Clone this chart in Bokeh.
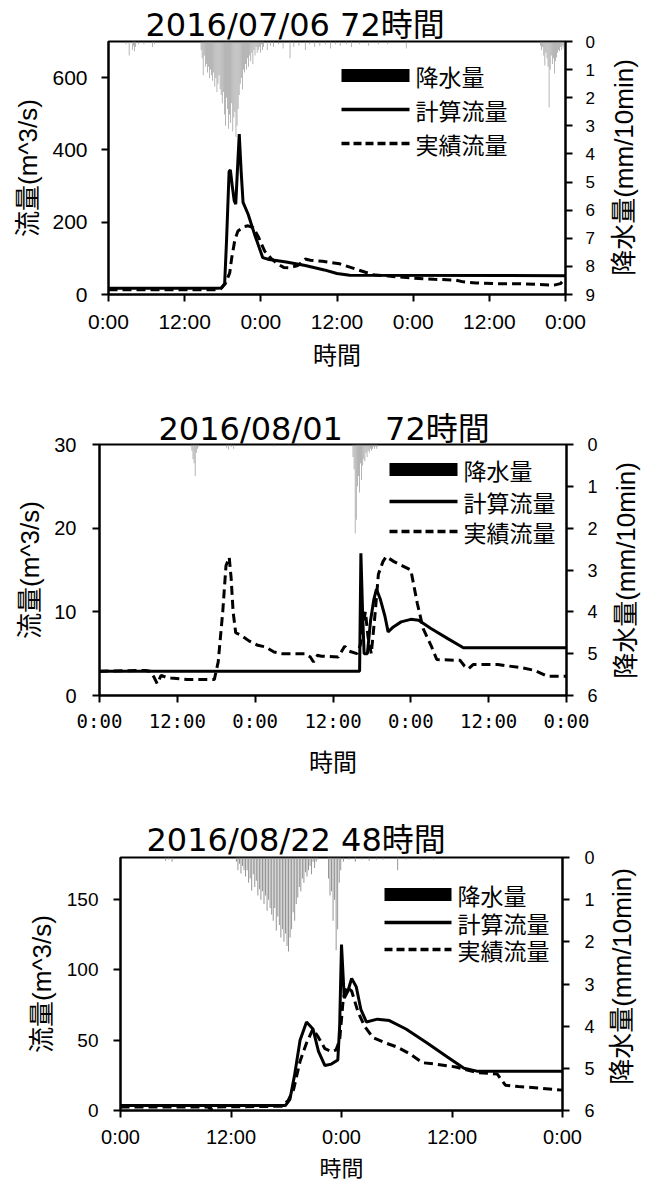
import math
from bokeh.plotting import figure
from bokeh.models import Range1d, LinearAxis, FixedTicker, Label, BoxAnnotation
from bokeh.layouts import column, row
from bokeh.embed import file_html
from bokeh.resources import INLINE

NUM = "Liberation Sans"
CJK = "Noto Sans CJK JP"
MIX = "Liberation Sans, Noto Sans CJK JP"
TITLE_FONT = "DejaVu Sans, Noto Sans CJK JP"
PAGE_W = 649
SIDE_X = 600

legend_labels = ["降水量", "計算流量", "実績流量"]
x_title = "時間"
y_title = "流量(m^3/s)"
y2_title = "降水量(mm/10min)"

# ---------------- chart 1 : 2016/07/06 ----------------
c1_title = "2016/07/06 72時間"
c1_hours = 72
c1_xticks = [0, 12, 24, 36, 48, 60, 72]
c1_xlabels = ["0:00", "12:00", "0:00", "12:00", "0:00", "12:00", "0:00"]
c1_ymax = 700
c1_yticks = [0, 200, 400, 600]
c1_rmax = 9
c1_rticks = [0, 1, 2, 3, 4, 5, 6, 7, 8, 9]
c1_calc_h = [0, 17.0, 17.8, 18.3, 18.6, 19.0, 19.2, 19.5, 19.8, 20.05, 20.3, 20.6, 20.9, 21.2, 22.0, 23.0,
             24.3, 25.3, 28.0, 31.0, 34.0, 36.0, 38.0, 72.0]
c1_calc_v = [17, 17, 18, 30, 150, 340, 345, 300, 260, 250, 340, 444, 340, 255, 222, 167,
             102, 97, 90, 80, 68, 58, 53, 52]
c1_obs_h = [0, 17.5, 18.4, 19.1, 19.4, 19.9, 20.4, 21.4, 22.0, 22.8, 23.6, 24.6, 25.6, 26.6, 27.6, 28.5,
            29.8, 31.0, 31.8, 33.7, 36.4, 39.0, 41.6, 44.8, 48.1, 51.3, 54.6, 55.9, 57.9, 61.1, 64.3,
            67.6, 70.2, 71.2, 72.0]
c1_obs_v = [13, 13, 30, 60, 100, 150, 176, 188, 190, 185, 160, 120, 100, 85, 75, 74,
            80, 98, 95, 92, 85, 70, 55, 50, 45, 42, 40, 35, 32, 30, 30,
            28, 26, 30, 45]
c1_rain_start = [2.5, 14.5, 68.0]
c1_rain_vals = [
    [0, 0.1, 0, 0, 0.5, 0, 0, 0.3, 0.15, 0.35, 0.2, 0, 0, 0.1, 0, 0, 0, 0, 0.1, 0,
     0, 0, 0, 0, 0, 0, 0.2, 0, 0.1, 0],
    [0.3, 0.6, 1.2, 0.5, 0.9, 0.8, 1.1, 0.9, 1.3, 1.0, 1.2, 1.4, 1.1, 1.6, 1.3, 1.8, 1.5, 1.2, 1.7, 1.9,
     2.2, 1.8, 2.6, 3.0, 2.0, 2.4, 3.1, 2.6, 2.9, 2.2, 3.2, 2.7, 2.5, 3.4, 3.0, 2.4, 1.9, 1.5, 1.3, 1.7,
     1.0, 1.1, 0.8, 1.0, 0.6, 0.9, 0.5, 0.7, 0.4, 0.8, 0.3, 0.5, 0.2, 0.4, 0.3, 0.2, 0.4, 0.1, 0.3, 0.2],
    [0.15, 0.3, 0.2, 0.5, 0.85, 0.4, 0.6, 0.9, 2.35, 1.0, 0.5, 0.8, 0.6, 1.14, 0.7, 0.57, 0.4, 0.3,
     0.35, 0.2, 0.3, 0.15, 0.25, 0.1],
]
c1_rain_sparse_h = [25.0, 25.5, 26.0, 26.8, 27.5, 28.6, 29.2, 30.0, 31.0, 31.7, 32.5, 33.3, 34.2, 35.0,
                    35.8, 36.5, 37.5, 38.3, 39.5, 41.0, 42.5, 44.0, 46.9]
c1_rain_sparse_v = [0.3, 0.15, 0.2, 0.1, 0.25, 0.6, 0.2, 0.15, 0.3, 0.1, 0.2, 0.15, 0.1, 0.25,
                    0.1, 0.15, 0.1, 0.2, 0.1, 0.15, 0.1, 0.1, 0.25]

# ---------------- chart 2 : 2016/08/01 ----------------
c2_title = "2016/08/01\u3000 72時間"
c2_hours = 72
c2_xticks = [0, 12, 24, 36, 48, 60, 72]
c2_xlabels = ["0:00", "12:00", "0:00", "12:00", "0:00", "12:00", "0:00"]
c2_ymax = 30
c2_yticks = [0, 10, 20, 30]
c2_rmax = 6
c2_rticks = [0, 1, 2, 3, 4, 5, 6]
c2_calc_h = [0, 40.1, 40.3, 40.6, 40.8, 41.3, 41.8, 42.3, 42.7, 43.3, 44.0, 44.5, 45.3, 46.5, 48.0, 49.2,
             51.1, 53.7, 56.1, 72.0]
c2_calc_v = [2.9, 2.9, 17.0, 9.0, 5.0, 5.0, 9.0, 11.5, 12.7, 11.5, 9.5, 7.6, 8.2, 8.8, 9.1, 9.0,
             8.0, 6.8, 5.7, 5.7]
c2_obs_h = [0, 7.1, 7.8, 8.4, 8.9, 9.5, 10.2, 11.0, 13.5, 17.7, 18.3, 19.0, 19.5, 20.0, 20.3, 20.6,
            21.0, 21.8, 23.1, 24.4, 25.6, 26.9, 28.2, 31.7, 32.5, 33.0, 33.6, 34.2, 36.8, 37.5, 37.8,
            38.5, 39.7, 40.2, 40.6, 41.0, 41.4, 41.9, 42.4, 43.0, 43.7, 44.2, 45.4, 46.7, 48.0, 48.5,
            49.0, 49.9, 51.1, 52.0, 55.6, 56.3, 56.9, 57.6, 61.4, 65.2, 67.1, 68.5, 69.0, 72.0]
c2_obs_v = [2.9, 3.0, 2.9, 2.2, 1.4, 2.4, 2.2, 2.1, 1.9, 1.9, 4.0, 10.0, 15.5, 16.5, 14.0, 10.0,
            7.5, 7.2, 6.5, 6.0, 5.8, 5.2, 5.0, 5.0, 4.6, 4.0, 4.8, 4.7, 4.6, 5.5, 5.9,
            5.3, 5.0, 6.0, 8.5, 10.0, 7.0, 5.0, 9.0, 14.5, 16.0, 16.6, 16.0, 15.5, 15.0, 13.0,
            11.0, 8.0, 6.0, 4.3, 4.2, 3.5, 3.2, 3.7, 3.7, 3.3, 3.0, 2.5, 2.3, 2.3]
c2_rain_start = [14.0, 39.0]
c2_rain_vals = [
    [0.05, 0.15, 0.35, 0.45, 0.75, 0.2, 0.1, 0.05],
    [0.3, 0.6, 2.13, 1.8, 1.0, 0.75, 1.15, 0.45, 0.85, 0.5, 0.35, 0.4, 0.2, 0.3, 0.15, 0.2,
     0.1, 0.15, 0.1, 0.05, 0.1, 0.05, 0.1, 0.05],
]
c2_rain_sparse_h = [19.6, 19.9, 20.3, 20.7, 26.9, 30.7]
c2_rain_sparse_v = [0.08, 0.12, 0.06, 0.1, 0.05, 0.05]

# ---------------- chart 3 : 2016/08/22 ----------------
c3_title = "2016/08/22 48時間"
c3_hours = 48
c3_xticks = [0, 12, 24, 36, 48]
c3_xlabels = ["0:00", "12:00", "0:00", "12:00", "0:00"]
c3_ymax = 180
c3_yticks = [0, 50, 100, 150]
c3_rmax = 6
c3_rticks = [0, 1, 2, 3, 4, 5, 6]
c3_calc_h = [0, 17.9, 18.4, 18.9, 19.5, 20.2, 20.9, 21.5, 22.2, 22.9, 23.6, 23.8, 24.0, 24.3, 24.7, 25.1,
             25.6, 26.1, 26.7, 27.9, 29.2, 31.0, 33.3, 35.5, 37.3, 38.7, 48.0]
c3_calc_v = [3.5, 3.5, 8, 25, 50, 63, 58, 42, 32, 33, 36, 60, 118, 80, 85, 94,
             88, 72, 63, 65, 64, 58, 48, 38, 30, 28, 28]
c3_obs_h = [0, 9.5, 9.8, 10.2, 17.5, 18.2, 18.8, 19.5, 20.2, 20.9, 21.5, 22.2, 22.9, 23.4, 23.8, 24.2,
            24.6, 25.1, 25.8, 26.5, 27.4, 28.8, 30.1, 31.5, 32.8, 34.2, 36.4, 38.7, 40.9, 41.8, 43.2,
            45.4, 48.0]
c3_obs_v = [2.5, 2.5, 1.0, 2.5, 3, 7, 15, 35, 48, 58, 52, 44, 42, 43, 50, 80,
            88, 85, 70, 60, 52, 48, 45, 40, 34, 33, 31, 27, 26, 18, 17,
            16, 14.5]
c3_rain_start = [12.5, 22.5]
c3_rain_vals = [
    [0.1, 0.3, 0.15, 0.38, 0.2, 0.3, 0.45, 0.3, 0.6, 0.5, 0.78, 0.4, 0.7, 0.55, 0.9, 0.75, 1.0, 0.8,
     1.1, 0.9, 1.26, 1.0, 1.2, 1.35, 1.5, 1.2, 1.73, 1.4, 1.6, 1.9, 1.7, 2.0, 1.8, 2.1, 2.23, 1.9,
     1.7, 1.3, 1.5, 1.1, 0.95, 0.7, 0.8, 0.5, 0.6, 0.35, 0.45, 0.3, 0.2, 0.4, 0.1, 0.25, 0.1, 0.05],
    [0.5, 0.9, 0.8, 1.5, 1.0, 2.2, 1.7, 0.6, 0.3],
]
c3_rain_sparse_h = [4.9, 5.2, 5.6, 24.2, 24.8, 25.5, 26.2, 27.0, 27.8, 28.5, 30.1, 31.0, 32.5, 34.0]
c3_rain_sparse_v = [0.08, 0.05, 0.1, 0.1, 0.05, 0.1, 0.05, 0.08, 0.05, 0.05, 0.3, 0.05, 0.05, 0.05]


def rain_points(starts, vals, sp_h, sp_v):
    xs, ys = [], []
    for s, vv in zip(starts, vals):
        for i, v in enumerate(vv):
            if v > 0:
                xs.append(s + i / 6 + 1 / 12)
                ys.append(v)
    xs += list(sp_h)
    ys += list(sp_v)
    return xs, ys


def make_chart(d, lay):
    L, R, T, B = lay["frame"]
    top = lay["page_top"]
    H = lay["height"]
    p = figure(frame_width=R - L, frame_height=B - T,
               min_border_left=L, min_border_right=SIDE_X - R,
               min_border_top=T - top, min_border_bottom=H - (B - top),
               x_range=Range1d(0, d["hours"]), y_range=Range1d(0, d["ymax"]),
               output_backend="svg", toolbar_location=None)
    p.extra_y_ranges = {"rain": Range1d(start=d["rmax"], end=0)}
    p.xgrid.visible = False
    p.ygrid.visible = False
    p.outline_line_color = "black"
    p.outline_line_width = 2
    p.outline_line_alpha = 1
    p.background_fill_color = "white"

    # title
    p.title.text = d["title"]
    p.title.align = "left"
    p.title.text_font = TITLE_FONT
    p.title.text_font_size = "32px"
    p.title.text_font_style = "normal"
    p.title.text_color = "black"
    p.title.offset = lay["title_left"] - L
    p.title.standoff = lay["title_standoff"]

    xs, ys = rain_points(d["rain_start"], d["rain_vals"], d["sp_h"], d["sp_v"])
    p.vbar(x=xs, width=0.1, bottom=0, top=ys, y_range_name="rain",
           fill_color="#8c8c8c", line_color=None)
    p.line(d["calc_h"], d["calc_v"], line_color="black", line_width=3)
    p.line(d["obs_h"], d["obs_v"], line_color="black", line_width=3, line_dash="9 5")

    ax2 = LinearAxis(y_range_name="rain")
    p.add_layout(ax2, "right")

    for ax in [p.xaxis[0], p.yaxis[0], ax2]:
        ax.axis_line_width = 2
        ax.major_tick_line_width = 2
        ax.major_tick_in = 0
        ax.major_tick_out = 7
        ax.minor_tick_line_color = None
        ax.major_label_text_color = "black"
        ax.axis_label_text_font_style = "normal"
        ax.axis_label_text_color = "black"

    xa = p.xaxis[0]
    xa.ticker = FixedTicker(ticks=d["xticks"])
    xa.major_label_overrides = {float(t): s for t, s in zip(d["xticks"], d["xlabels"])}
    xa.major_label_text_font = lay["xfont"]
    xa.major_label_text_font_size = lay["xsize"]
    xa.major_label_standoff = lay["xstand"]
    xa.axis_label = x_title
    xa.axis_label_text_font = MIX
    xa.axis_label_text_font_size = lay["xlab_size"]
    xa.axis_label_standoff = lay["xlab_stand"]

    ya = p.yaxis[0]
    ya.ticker = FixedTicker(ticks=d["yticks"])
    ya.major_label_text_font = NUM
    ya.major_label_text_font_size = lay["ysize"]
    ya.major_label_standoff = lay["ystand"]
    ya.axis_label = y_title
    ya.axis_label_text_font = MIX
    ya.axis_label_text_font_size = "26px"
    ya.axis_label_standoff = lay["ylab_stand"]

    ax2.ticker = FixedTicker(ticks=d["rticks"])
    ax2.major_label_text_font = NUM
    ax2.major_label_text_font_size = lay["rsize"]
    ax2.major_label_standoff = lay["rstand"]

    # legend (inside the frame)
    gx0, gx1, tx0 = lay["leg_x"]
    rows = lay["leg_y"]

    def box(x0, x1, y0, y1):
        p.add_layout(BoxAnnotation(left=x0 - L, right=x1 - L, bottom=B - y1, top=B - y0,
                                   left_units="screen", right_units="screen",
                                   top_units="screen", bottom_units="screen",
                                   fill_color="black", fill_alpha=1, line_color=None))

    box(gx0, gx1, rows[0] - 6.5, rows[0] + 6.5)
    box(gx0, gx1, rows[1] - 1.75, rows[1] + 1.75)
    x = gx0
    while x < gx1:
        box(x, min(x + 8, gx1), rows[2] - 1.75, rows[2] + 1.75)
        x += 12
    for txt, ry_ in zip(legend_labels, rows):
        p.add_layout(Label(x=tx0 - L, y=B - ry_, x_units="screen", y_units="screen", text=txt,
                           text_font=CJK, text_font_size="23px", text_align="left",
                           text_baseline="middle", text_color="black"))

    # side panel carrying the right-hand axis title (reads bottom to top);
    # the row aligns its frame with the main frame (top T, bottom B)
    side = figure(width=PAGE_W - SIDE_X, height=H, x_axis_type=None, y_axis_type=None,
                  min_border=0, min_border_left=0, min_border_right=0, min_border_top=0,
                  min_border_bottom=0, output_backend="svg", toolbar_location=None,
                  x_range=Range1d(0, 1), y_range=Range1d(0, 1))
    side.outline_line_color = None
    side.xgrid.visible = False
    side.ygrid.visible = False
    rx, ry = lay["rtitle"]
    side.add_layout(Label(x=rx - SIDE_X, y=B - ry, x_units="screen", y_units="screen",
                          text=y2_title, text_font=MIX, text_font_size="26px",
                          text_align="center", text_baseline="middle", angle=math.pi / 2,
                          text_color="black"))
    return row(p, side, spacing=0)


d1 = dict(title=c1_title, hours=c1_hours, xticks=c1_xticks, xlabels=c1_xlabels, ymax=c1_ymax,
          yticks=c1_yticks, rmax=c1_rmax, rticks=c1_rticks, calc_h=c1_calc_h, calc_v=c1_calc_v,
          obs_h=c1_obs_h, obs_v=c1_obs_v, rain_start=c1_rain_start, rain_vals=c1_rain_vals,
          sp_h=c1_rain_sparse_h, sp_v=c1_rain_sparse_v)
d2 = dict(title=c2_title, hours=c2_hours, xticks=c2_xticks, xlabels=c2_xlabels, ymax=c2_ymax,
          yticks=c2_yticks, rmax=c2_rmax, rticks=c2_rticks, calc_h=c2_calc_h, calc_v=c2_calc_v,
          obs_h=c2_obs_h, obs_v=c2_obs_v, rain_start=c2_rain_start, rain_vals=c2_rain_vals,
          sp_h=c2_rain_sparse_h, sp_v=c2_rain_sparse_v)
d3 = dict(title=c3_title, hours=c3_hours, xticks=c3_xticks, xlabels=c3_xlabels, ymax=c3_ymax,
          yticks=c3_yticks, rmax=c3_rmax, rticks=c3_rticks, calc_h=c3_calc_h, calc_v=c3_calc_v,
          obs_h=c3_obs_h, obs_v=c3_obs_v, rain_start=c3_rain_start, rain_vals=c3_rain_vals,
          sp_h=c3_rain_sparse_h, sp_v=c3_rain_sparse_v)

lay1 = dict(frame=(108, 565, 41, 294), page_top=0, height=378,
            xfont=NUM, xsize="21px", xstand=8, ysize="21px", ystand=14, rsize="17px", rstand=13,
            title_left=145, title_standoff=-4, xlab_size="24px", xlab_stand=6, ylab_stand=6,
            rtitle=(623, 167), leg_x=(341, 409, 415), leg_y=(75, 109, 143))
lay2 = dict(frame=(99, 566, 444, 695), page_top=378, height=410,
            xfont="DejaVu Sans Mono", xsize="19px", xstand=7, ysize="20px", ystand=16, rsize="18px",
            rstand=14, title_left=158, title_standoff=-7, xlab_size="24px", xlab_stand=14,
            ylab_stand=6, rtitle=(625, 570), leg_x=(389, 457, 463), leg_y=(469, 501, 531))
lay3 = dict(frame=(120, 562, 857, 1110), page_top=788, height=388,
            xfont=NUM, xsize="20px", xstand=8, ysize="19px", ystand=15, rsize="18px", rstand=15,
            title_left=146, title_standoff=-3, xlab_size="22px", xlab_stand=5, ylab_stand=7,
            rtitle=(621, 983), leg_x=(384, 451, 457), leg_y=(894, 922, 949))

r1 = make_chart(d1, lay1)
r2 = make_chart(d2, lay2)
r3 = make_chart(d3, lay3)

layout = column(r1, r2, r3, spacing=0)
open("out.html", "w").write(file_html(layout, INLINE))
